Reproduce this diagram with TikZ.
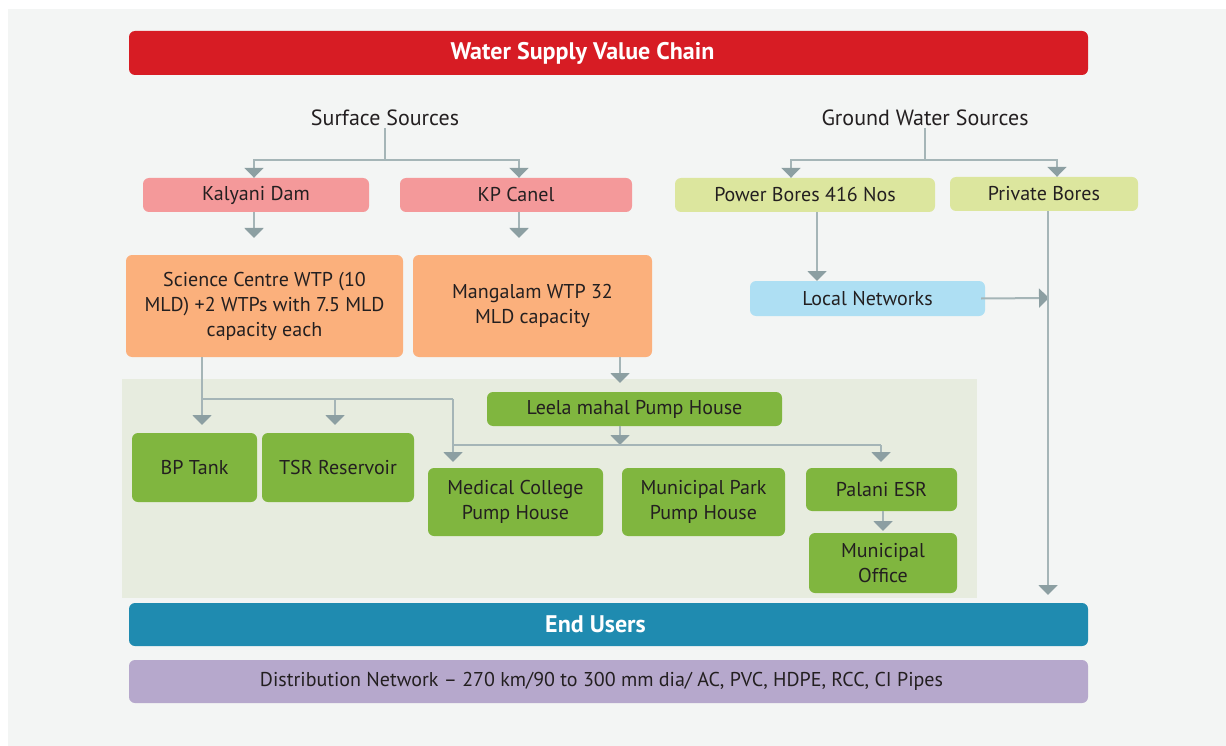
\documentclass[tikz,border=0pt]{standalone}
\usepackage{fontspec}
\setmainfont{PT Sans}
\usetikzlibrary{arrows.meta}
\definecolor{bgc}{HTML}{F3F5F4}
\definecolor{redc}{HTML}{D71C24}
\definecolor{pinkc}{HTML}{F4999A}
\definecolor{orangec}{HTML}{FBB07C}
\definecolor{limec}{HTML}{DCE69E}
\definecolor{skyc}{HTML}{AEDFF3}
\definecolor{greenc}{HTML}{80B63F}
\definecolor{areac}{HTML}{E7ECDF}
\definecolor{tealc}{HTML}{1F8BB0}
\definecolor{lavc}{HTML}{B6A8CC}
\definecolor{linec}{HTML}{A5B5B7}
\definecolor{tipc}{HTML}{8C9FA2}
\definecolor{txtc}{HTML}{231F20}
\tikzset{
  box/.style={rounded corners=6pt, inner sep=0pt, align=center, text=txtc,
    font=\fontsize{20}{25}\selectfont},
  bar/.style={rounded corners=6pt, inner sep=0pt},
  bartext/.style={font=\fontsize{24}{28}\selectfont\bfseries, text=white, inner sep=0pt},
  head/.style={text=txtc, font=\fontsize{22}{26}\selectfont, inner sep=2pt},
  conn/.style={draw=linec, line width=2pt},
  arr/.style={conn, -{Triangle[width=19pt,length=10pt,color=tipc]}},
}
\begin{document}
\begin{tikzpicture}[x=1pt,y=-1pt]
\useasboundingbox (0,0) rectangle (1226,746);
\fill[bgc] (8,9) rectangle (1226,746);
% green band holding the pump houses and reservoirs
\fill[areac] (122,379) rectangle (977,598);

% header and footer bars
\node[bar, fill=redc, minimum width=959pt, minimum height=44pt] (title) at (608.5,53) {};
\node[bartext] (titletext) at ([xshift=-26pt]title.center) {Water Supply Value Chain};
\node[bar, fill=tealc, minimum width=959pt, minimum height=43pt] (end) at (608.5,624.5) {};
\node[bartext] (endtext) at ([xshift=-13pt]end.center) {End Users};
\node[bar, fill=lavc, minimum width=959pt, minimum height=43pt] (dist) at (608.5,681.5) {};
\node[box, font=\fontsize{20}{24}\selectfont] (disttext) at ([xshift=-7pt]dist.center)
  {Distribution Network – 270 km/90 to 300 mm dia/ AC, PVC, HDPE, RCC, CI Pipes};

% source headings
\node[head] (ss) at (385,118) {Surface Sources};
\node[head] (gw) at (925,118) {Ground Water Sources};

% sources
\node[box, fill=pinkc, minimum width=226pt, minimum height=34pt] (kal) at (256,195) {Kalyani Dam};
\node[box, fill=pinkc, minimum width=232pt, minimum height=34pt] (kp) at (516,195) {KP Canel};
\node[box, fill=limec, minimum width=260pt, minimum height=34pt] (pb) at (805,195) {Power Bores 416 Nos};
\node[box, fill=limec, minimum width=188pt, minimum height=34pt] (prb) at (1044,194) {Private Bores};

% treatment plants and local network
\node[box, fill=orangec, minimum width=277pt, minimum height=102pt] (sci) at (264.5,306)
  {Science Centre WTP (10\\MLD) +2 WTPs with 7.5 MLD\\capacity each};
\node[box, fill=orangec, minimum width=239pt, minimum height=102pt] (mang) at (532.5,306)
  {\raisebox{5pt}{\begin{tabular}{@{}c@{}}Mangalam WTP 32\\MLD capacity\end{tabular}}};
\node[box, fill=skyc, minimum width=235pt, minimum height=35pt] (ln) at (867.5,298.5) {Local Networks};

% pump houses and reservoirs
\node[box, fill=greenc, minimum width=295pt, minimum height=34pt] (leela) at (634.5,409) {Leela mahal Pump House};
\node[box, fill=greenc, minimum width=125pt, minimum height=69pt] (bp) at (194.5,467.5) {BP Tank};
\node[box, fill=greenc, minimum width=152pt, minimum height=69pt] (tsr) at (338,467.5) {TSR Reservoir};
\node[box, fill=greenc, minimum width=175pt, minimum height=68pt] (med) at (515.5,502) {Medical College\\Pump House};
\node[box, fill=greenc, minimum width=163pt, minimum height=68pt] (mpark) at (703.5,502) {Municipal Park\\Pump House};
\node[box, fill=greenc, minimum width=151pt, minimum height=43pt] (palani) at (881.5,489.5) {Palani ESR};
\node[box, fill=greenc, minimum width=148pt, minimum height=60pt] (moff) at (883,563) {Municipal\\Office};

% junctions and free arrow ends
\coordinate (ssj) at (385,160);
\coordinate (gwj) at (925,160);
\coordinate (kalA) at (254,238);
\coordinate (kpA) at (519,238);
\coordinate (pbA) at (817,281);
\coordinate (lnA) at (1049,298);
\coordinate (prbA) at (1048,595);
\coordinate (mangA) at (620,383);
\coordinate (sciA) at (202,425);
\coordinate (sciJ) at (202,399);
\coordinate (tsrJ) at (335,399);
\coordinate (tsrA) at (335,425);
\coordinate (medJ) at (453,399);
\coordinate (medA) at (453,462);
\coordinate (leelaA) at (620,445);
\coordinate (palJ) at (881,445);
\coordinate (palA) at (881,462);
\coordinate (moffA) at (883,531);

% surface sources
\draw[conn] (ss.south) -- (ssj);
\draw[arr] (ssj) -| ([xshift=-2pt]kal.north);
\draw[arr] (ssj) -| ([xshift=3pt]kp.north);
\draw[arr] (kal.south -| kalA) -- (kalA);
\draw[arr] (kp.south -| kpA) -- (kpA);

% ground water sources
\draw[conn] (gw.south) -- (gwj);
\draw[arr] (gwj) -| ([xshift=-14pt]pb.north);
\draw[arr] (gwj) -| ([xshift=13pt]prb.north);
\draw[arr] (pb.south -| pbA) -- (pbA);
\draw[arr] ([xshift=-4pt]ln.east) -- (lnA);
\draw[arr] (prb.south -| prbA) -- (prbA);

% treatment plants to storage
\draw[arr] (mang.south -| mangA) -- (mangA);
\draw[arr] (sci.south -| sciA) -- (sciA);
\draw[conn] (sciJ) -- (medJ);
\draw[arr] (tsrJ) -- (tsrA);
\draw[arr] (medJ) -- (medA);
\draw[arr] (leela.south -| leelaA) -- (leelaA);
\draw[conn] (leelaA -| medJ) -- (palJ);
\draw[arr] (palJ) -- (palA);
\draw[arr] (palani.south -| moffA) -- (moffA);
\end{tikzpicture}
\end{document}
